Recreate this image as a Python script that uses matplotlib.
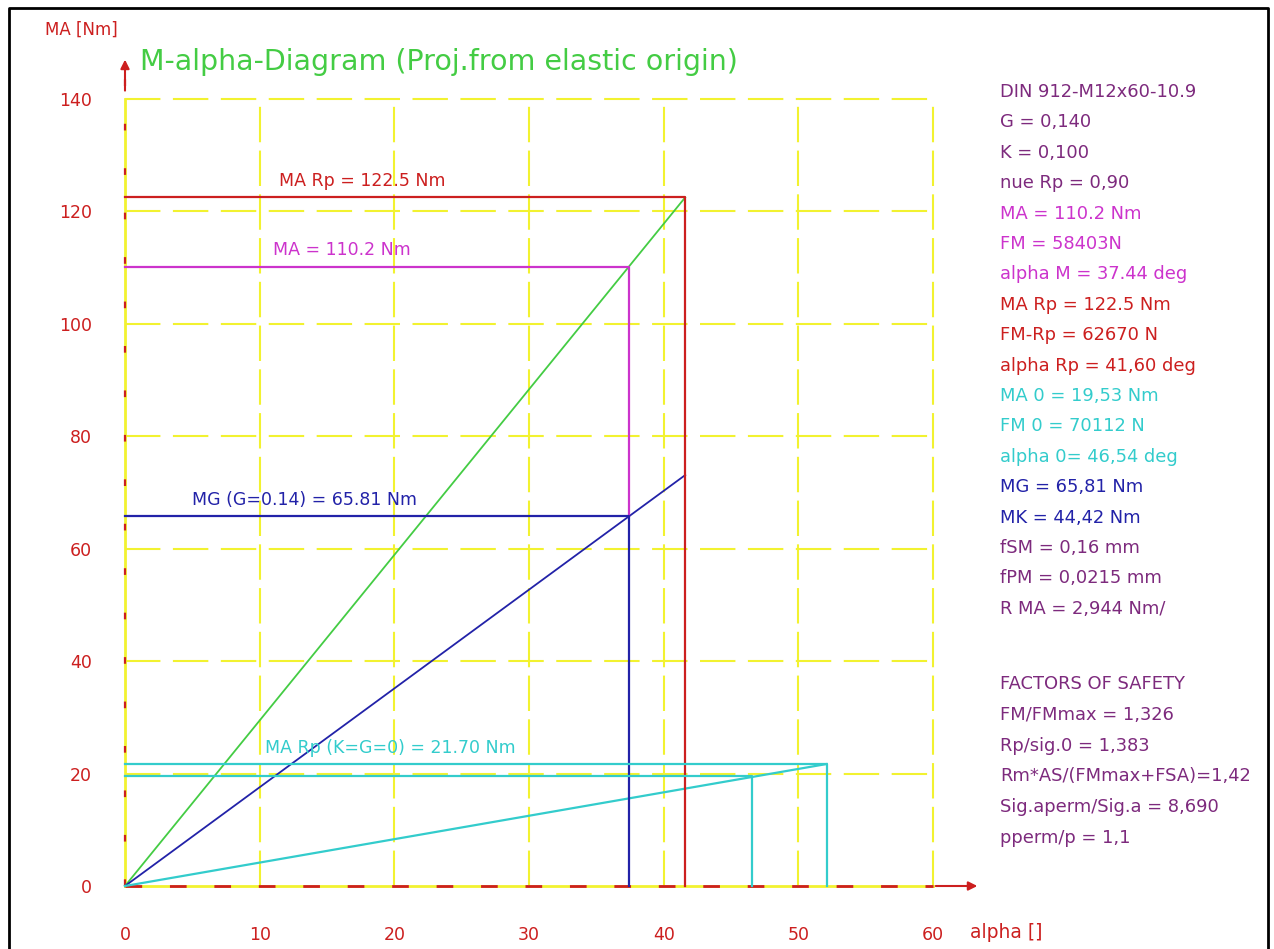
import matplotlib
matplotlib.use('Agg')
import matplotlib.pyplot as plt
from matplotlib.lines import Line2D

# values (alpha in deg, moment in Nm)
alpha_Rp, MA_Rp = 41.60, 122.5      # red: yield point
alpha_M, MA_M = 37.44, 110.2        # magenta: tightening moment
MG = 65.81                          # blue: thread moment
MG_end = 73.1                       # blue line at alpha_Rp
alpha_0, MA_0 = 46.54, 19.53        # cyan lower
alpha_Rp0, MA_Rp0 = 52.1, 21.70     # cyan upper (K=G=0)

x_ticks = [0, 10, 20, 30, 40, 50, 60]
y_ticks = [0, 20, 40, 60, 80, 100, 120, 140]

info_lines = ["DIN 912-M12x60-10.9", "G = 0,140", "K = 0,100", "nue Rp = 0,90",
              "MA = 110.2 Nm", "FM = 58403N", "alpha M = 37.44 deg",
              "MA Rp = 122.5 Nm", "FM-Rp = 62670 N", "alpha Rp = 41,60 deg",
              "MA 0 = 19,53 Nm", "FM 0 = 70112 N", "alpha 0= 46,54 deg",
              "MG = 65,81 Nm", "MK = 44,42 Nm",
              "fSM = 0,16 mm", "fPM = 0,0215 mm", "R MA = 2,944 Nm/"]
safety_lines = ["FACTORS OF SAFETY", "FM/FMmax = 1,326", "Rp/sig.0 = 1,383",
                "Rm*AS/(FMmax+FSA)=1,42", "Sig.aperm/Sig.a = 8,690", "pperm/p = 1,1"]

RED = '#cc1f1f'
MAG = '#cc33cc'
BLUE = '#2222a8'
GREEN = '#44cc44'
CYAN = '#33cccc'
YEL = '#f2f230'
PURP = '#7d2a7d'

info_colors = [PURP] * 4 + [MAG] * 3 + [RED] * 3 + [CYAN] * 3 + [BLUE] * 2 + [PURP] * 3

W, H = 1274, 949
fig = plt.figure(figsize=(W / 100, H / 100), dpi=100)
ax = fig.add_axes([125 / W, 1 - 886 / H, (933 - 125) / W, (886 - 99) / H])
ax.set_xlim(0, 60)
ax.set_ylim(0, 140)
for s in ax.spines.values():
    s.set_visible(False)

# yellow grid
for x in x_ticks[1:]:
    ax.plot([x, x], [0, 140], color=YEL, lw=1.5, ls=(0, (17, 4)), clip_on=False)
for y in y_ticks[1:]:
    ax.plot([0, 60], [y, y], color=YEL, lw=1.5, ls=(0, (17, 6)), clip_on=False)
ax.plot([0, 0], [0, 140], color=YEL, lw=2, clip_on=False)
ax.plot([0, 60], [0, 0], color=YEL, lw=2, clip_on=False)

# red axes (dashed over yellow) with arrows
ax.plot([0, 0], [0, 146], color=RED, lw=1.6, ls=(0, (3, 17)), clip_on=False)
ax.plot([0, 60], [0, 0], color=RED, lw=2, ls=(0, (6, 10)), clip_on=False)
ax.annotate('', xy=(0, 147.5), xytext=(0, 141), annotation_clip=False,
            arrowprops=dict(arrowstyle='-|>', color=RED, lw=1.5, mutation_scale=13))
ax.annotate('', xy=(63.5, 0), xytext=(60, 0), annotation_clip=False,
            arrowprops=dict(arrowstyle='-|>', color=RED, lw=1.5, mutation_scale=13))

# curves
ax.plot([0, alpha_Rp], [0, MA_Rp], color=GREEN, lw=1.3, clip_on=False)
ax.plot([0, alpha_Rp], [0, MG_end], color=BLUE, lw=1.3, clip_on=False)
ax.plot([0, alpha_Rp0], [0, MA_Rp0], color=CYAN, lw=1.6, clip_on=False)
ax.plot([0, alpha_Rp, alpha_Rp], [MA_Rp, MA_Rp, 0], color=RED, lw=1.6, clip_on=False)
ax.plot([0, alpha_M, alpha_M], [MA_M, MA_M, MG], color=MAG, lw=1.6, clip_on=False)
ax.plot([0, alpha_M, alpha_M], [MG, MG, 0], color=BLUE, lw=1.6, clip_on=False)
ax.plot([0, alpha_Rp0, alpha_Rp0], [MA_Rp0, MA_Rp0, 0], color=CYAN, lw=1.6, clip_on=False)
ax.plot([0, alpha_0, alpha_0], [MA_0, MA_0, 0], color=CYAN, lw=1.6, clip_on=False)

# inline labels
ax.text(11.4, 125.4, "MA Rp = 122.5 Nm", color=RED, fontsize=12.5, va='center')
ax.text(11.0, 113.2, "MA = 110.2 Nm", color=MAG, fontsize=12.5, va='center')
ax.text(5.0, 68.6, "MG (G=0.14) = 65.81 Nm", color=BLUE, fontsize=12.5, va='center')
ax.text(10.4, 24.5, "MA Rp (K=G=0) = 21.70 Nm", color=CYAN, fontsize=12.5, va='center')

# ticks
ax.set_xticks(x_ticks)
ax.set_yticks(y_ticks)
ax.tick_params(axis='x', length=0, pad=29, labelcolor=RED, labelsize=12.5)
ax.tick_params(axis='y', length=0, pad=24, labelcolor=RED, labelsize=12.5)

fig.text(45 / W, 1 - 30 / H, "MA [Nm]", color=RED, fontsize=12, va='center')
fig.text(970 / W, 1 - 933 / H, "alpha []", color=RED, fontsize=13.5, va='center')
fig.text(140 / W, 1 - 62 / H, "M-alpha-Diagram (Proj.from elastic origin)",
         color=GREEN, fontsize=20.5, va='center')

# right hand info block
for i, (s, c) in enumerate(zip(info_lines, info_colors)):
    fig.text(1000 / W, 1 - (92 + i * 30.4) / H, s, color=c, fontsize=12.9, va='center')
for i, s in enumerate(safety_lines):
    fig.text(1000 / W, 1 - (684 + i * 30.8) / H, s, color=PURP, fontsize=12.9, va='center')

# frame around the drawing
fig.add_artist(Line2D([9 / W, 9 / W, 1268 / W, 1268 / W], [0, 1 - 8 / H, 1 - 8 / H, 0],
                      color='black', lw=2))

fig.savefig('out.png', dpi=100)
